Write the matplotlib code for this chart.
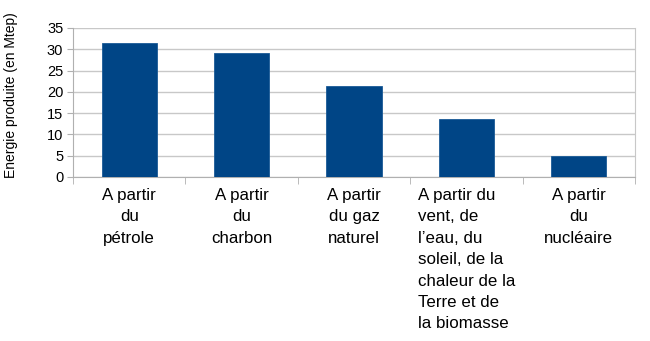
import numpy as np
import matplotlib.pyplot as plt

plt.rcParams['font.family'] = ['Liberation Sans', 'DejaVu Sans']

categories = [
    "A partir\ndu\npétrole",
    "A partir\ndu\ncharbon",
    "A partir\ndu gaz\nnaturel",
    "A partir du\nvent, de\nl\u2019eau, du\nsoleil, de la\nchaleur de la\nTerre et de\nla biomasse",
    "A partir\ndu\nnucléaire",
]
values = [31.4, 29.1, 21.4, 13.6, 5.0]
yticks = [0, 5, 10, 15, 20, 25, 30, 35]

fig = plt.figure(figsize=(6.5, 3.41), dpi=100)
ax = fig.add_axes([0.1123, 0.481, 0.8646, 0.437])

x = np.arange(len(categories))
ax.bar(x, values, width=0.49, color="#004586", edgecolor="#1a5a96", linewidth=0.6, zorder=3)

ax.set_xlim(-0.5, len(categories) - 0.5)
ax.set_ylim(0, 35)
ax.set_yticks(yticks)
ax.yaxis.grid(True, color="#c8c8c8", linewidth=1.0, zorder=0)

ax.set_xticks(x)
ax.set_xticklabels(categories, fontsize=12.2, linespacing=1.53)
for i, lab in enumerate(ax.get_xticklabels()):
    lab.set_multialignment("left" if i == 3 else "center")
ax.set_xticks(np.arange(-0.5, len(categories)), minor=True)
ax.tick_params(axis="x", which="major", length=0, pad=8)
ax.tick_params(axis="x", which="minor", length=5, color="#b0b0b0")
ax.tick_params(axis="y", length=4, color="#b0b0b0", labelsize=10.5, pad=3)

ax.spines["top"].set_visible(False)
ax.spines["right"].set_color("#c8c8c8")
ax.spines["left"].set_color("#b0b0b0")
ax.spines["bottom"].set_color("#b0b0b0")

ax.set_ylabel("Energie produite (en Mtep)", fontsize=10)
ax.yaxis.set_label_coords(-0.097, 0.55)

fig.savefig("out.png", dpi=100)
